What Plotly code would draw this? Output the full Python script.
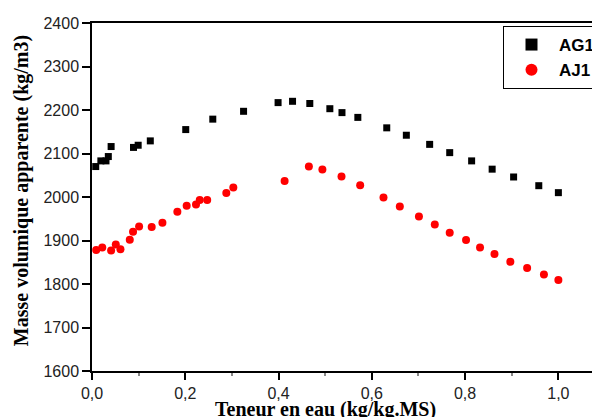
import plotly.graph_objects as go

# AG1 series (squares)
ag1_x = [0.008, 0.019, 0.030, 0.035, 0.041, 0.089, 0.099, 0.125, 0.201, 0.259, 0.325, 0.399, 0.430,
         0.467, 0.510, 0.536, 0.570, 0.632, 0.674, 0.724, 0.767, 0.814, 0.858, 0.904, 0.958, 1.000]
ag1_y = [2070, 2083, 2083, 2093, 2116, 2114, 2119, 2129, 2155, 2179, 2197, 2217, 2220,
         2215, 2203, 2194, 2183, 2159, 2142, 2121, 2102, 2083, 2064, 2046, 2026, 2010]

# AJ1 series (circles)
aj1_x = [0.009, 0.022, 0.041, 0.051, 0.061, 0.081, 0.088, 0.101, 0.128, 0.151, 0.183, 0.203, 0.223,
         0.231, 0.247, 0.288, 0.303, 0.413, 0.465, 0.494, 0.535, 0.575, 0.625, 0.660, 0.701, 0.735,
         0.767, 0.802, 0.832, 0.863, 0.897, 0.933, 0.969, 1.000]
aj1_y = [1878, 1884, 1877, 1891, 1880, 1902, 1920, 1932, 1931, 1941, 1966, 1980, 1983,
         1993, 1993, 2009, 2022, 2037, 2070, 2063, 2047, 2027, 1999, 1978, 1955, 1937,
         1918, 1901, 1884, 1869, 1851, 1837, 1822, 1809]

x_tickvals = [0.0, 0.2, 0.4, 0.6, 0.8, 1.0]
x_ticktext = ["0,0", "0,2", "0,4", "0,6", "0,8", "1,0"]
y_tickvals = [1600, 1700, 1800, 1900, 2000, 2100, 2200, 2300, 2400]

x_title = "Teneur en eau (kg/kg.MS)"
y_title = "Masse volumique apparente (kg/m3)"

fig = go.Figure()
fig.add_trace(go.Scatter(x=ag1_x, y=ag1_y, mode="markers", name="<b>AG1</b>",
                         marker=dict(symbol="square", size=7, color="black")))
fig.add_trace(go.Scatter(x=aj1_x, y=aj1_y, mode="markers", name="<b>AJ1</b>",
                         marker=dict(symbol="circle", size=8, color="#ff0000")))

tickfont = dict(family="Liberation Sans, Arial", size=16, color="#222")
titlefont = dict(family="Liberation Serif, Times New Roman", size=20, color="black")

# page body has an 8px default margin: figure is sized to fill the rest of the 600x417 window
fig.update_layout(
    width=592, height=409,
    margin=dict(l=84, r=0, t=15, b=46),
    plot_bgcolor="white", paper_bgcolor="white",
    showlegend=True,
    legend=dict(x=(504 - 92) / 508, y=(371 - 26) / 348, xanchor="left", yanchor="top",
                bordercolor="black", borderwidth=1, bgcolor="white",
                font=dict(family="Liberation Sans, Arial", size=17, color="black"),
                tracegroupgap=0, itemsizing="constant", itemwidth=45),
    xaxis=dict(range=[0, 1.0871], showline=True, linecolor="black", linewidth=1.5,
               mirror=True, ticks="outside", ticklen=7, tickcolor="black", tickwidth=1.5,
               tickvals=x_tickvals, ticktext=x_ticktext, showgrid=False, zeroline=False,
               tickfont=tickfont, automargin=False,
               minor=dict(dtick=0.1, tick0=0, ticks="outside", ticklen=3, tickcolor="#888", showgrid=False)),
    yaxis=dict(range=[1600, 2400], showline=True, linecolor="black", linewidth=1.5,
               ticks="outside", ticklen=8, tickcolor="black", tickwidth=1.5,
               tickvals=y_tickvals, showgrid=False, zeroline=False,
               tickfont=tickfont, automargin=False),
    annotations=[
        dict(text="<b>" + x_title + "</b>", xref="paper", yref="paper",
             x=(326 - 92) / 508, y=(371 - 409) / 348, xanchor="center", yanchor="middle",
             showarrow=False, font=titlefont),
        dict(text="<b>" + y_title + "</b>", xref="paper", yref="paper",
             x=(21 - 92) / 508, y=(371 - 191) / 348, xanchor="center", yanchor="middle",
             textangle=-90, showarrow=False, font=titlefont),
    ],
)

fig.write_html("out.html")
